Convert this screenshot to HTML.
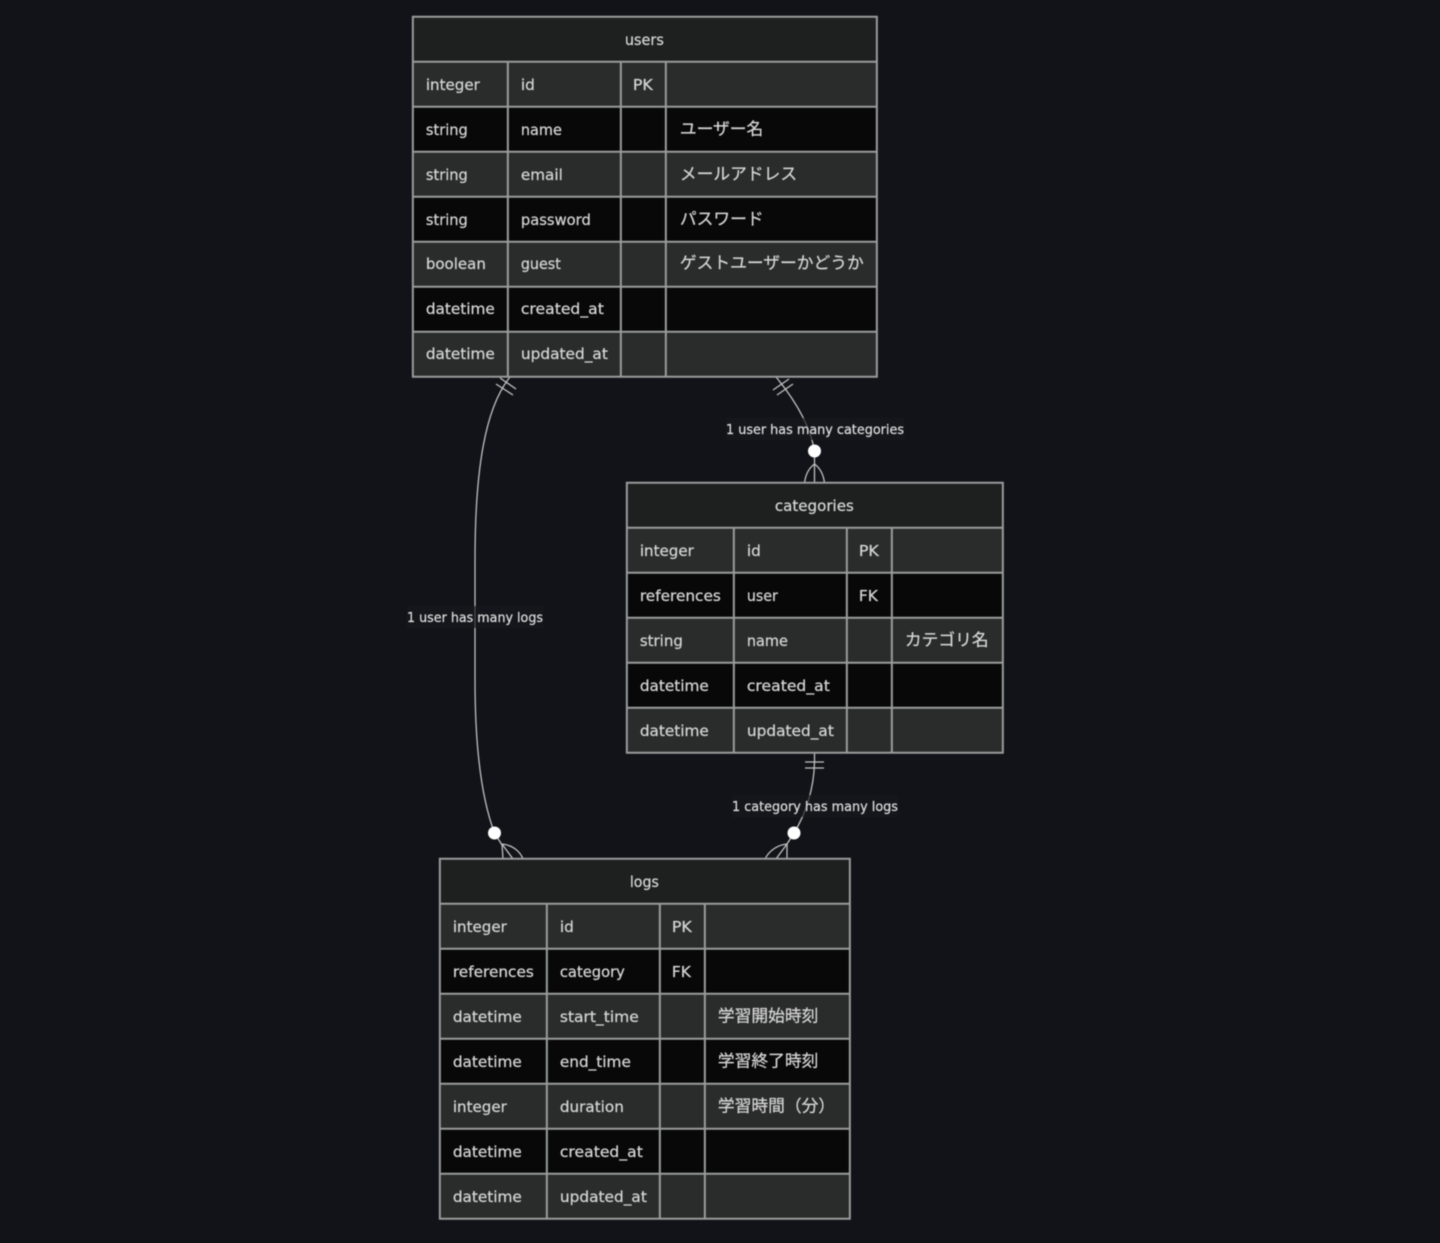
<!DOCTYPE html>
<html lang="ja"><head><meta charset="utf-8"><title>ER diagram</title>
<style>
html,body{margin:0;padding:0;background:#111318;width:1440px;height:1243px;overflow:hidden}
svg{display:block;filter:blur(.45px)}
text{font-family:"DejaVu Sans","Noto Sans CJK JP",sans-serif;font-size:15.5px;fill:#d4d4d4;stroke:#d4d4d4;stroke-width:.25px}
.j{font-family:"Noto Sans CJK JP",sans-serif;font-size:16.75px;transform:translateY(.7px)}
.l{font-size:13.5px;fill:#dcdcdc;stroke:#dcdcdc}
.h{fill:#1e1f1f}.a{fill:#2a2b2b}.b{fill:#080808}
.g{stroke:#9a9c9c;stroke-width:2;fill:none}
.e{stroke:#c0c0c0;stroke-width:1.3;fill:none}
</style></head><body>
<svg width="1440" height="1243" viewBox="0 0 1440 1243" xmlns="http://www.w3.org/2000/svg">
<rect width="1440" height="1243" fill="#111318"/>

<!-- edges -->
<path class="e" d="M510,377 C485,408 475,470 475,560 L475,680 C475,760 484,805 494.5,833 L502,845"/>
<path class="e" d="M500,378 L516,389 M496,384 L513,395"/>
<path class="e" d="M502,844 L503,859 M502,844 L513,859 M502,844 C512,845 520,851 523,859"/>
<circle cx="494.5" cy="833" r="6.5" fill="#fff"/>

<path class="e" d="M776,377 C795,400 810,425 814.5,451 L814.5,483"/>
<path class="e" d="M773,390 L789,379 M777,395 L793,384"/>
<path class="e" d="M814.5,464 C809,468 805.5,475 804.5,483 M814.5,464 C820,468 823.5,475 824.5,483"/>
<circle cx="814.5" cy="451" r="6.5" fill="#fff"/>

<path class="e" d="M814.5,753 L814.5,762 C814,790 805,815 794,833 L787,844 L787,859"/>
<path class="e" d="M805,762 L824,762 M805,768 L824,768"/>
<path class="e" d="M787,844 L776,859 M787,844 C777,845 769,851 765,859"/>
<circle cx="794" cy="833" r="6.5" fill="#fff"/>

<!-- users -->
<g transform="translate(-.15,-.2)">
<rect class="h" x="413" y="17" width="464" height="45"/>
<rect class="a" x="413" y="62" width="464" height="45"/>
<rect class="b" x="413" y="107" width="464" height="45"/>
<rect class="a" x="413" y="152" width="464" height="45"/>
<rect class="b" x="413" y="197" width="464" height="45"/>
<rect class="a" x="413" y="242" width="464" height="45"/>
<rect class="b" x="413" y="287" width="464" height="45"/>
<rect class="a" x="413" y="332" width="464" height="45"/>
<path class="g" d="M413,17H877V377H413Z M413,62H877 M413,107H877 M413,152H877 M413,197H877 M413,242H877 M413,287H877 M413,332H877 M508,62V377 M621,62V377 M666,62V377"/>
<text x="625" y="45" textLength="39" lengthAdjust="spacingAndGlyphs">users</text>
<text x="426" y="90" textLength="54" lengthAdjust="spacingAndGlyphs">integer</text>
<text x="521" y="90" textLength="14" lengthAdjust="spacingAndGlyphs">id</text>
<text x="633" y="90" textLength="20" lengthAdjust="spacingAndGlyphs">PK</text>
<text x="426" y="135" textLength="42" lengthAdjust="spacingAndGlyphs">string</text>
<text x="521" y="135" textLength="41" lengthAdjust="spacingAndGlyphs">name</text>
<text class="j" x="680" y="134">ユーザー名</text>
<text x="426" y="180" textLength="42" lengthAdjust="spacingAndGlyphs">string</text>
<text x="521" y="180" textLength="42" lengthAdjust="spacingAndGlyphs">email</text>
<text class="j" x="680" y="179">メールアドレス</text>
<text x="426" y="225" textLength="42" lengthAdjust="spacingAndGlyphs">string</text>
<text x="521" y="225" textLength="70" lengthAdjust="spacingAndGlyphs">password</text>
<text class="j" x="680" y="224">パスワード</text>
<text x="426" y="269" textLength="60" lengthAdjust="spacingAndGlyphs">boolean</text>
<text x="521" y="269" textLength="40" lengthAdjust="spacingAndGlyphs">guest</text>
<text class="j" x="680" y="268">ゲストユーザーかどうか</text>
<text x="426" y="314" textLength="69" lengthAdjust="spacingAndGlyphs">datetime</text>
<text x="521" y="314" textLength="83" lengthAdjust="spacingAndGlyphs">created_at</text>
<text x="426" y="359" textLength="69" lengthAdjust="spacingAndGlyphs">datetime</text>
<text x="521" y="359" textLength="87" lengthAdjust="spacingAndGlyphs">updated_at</text>
</g>

<!-- categories -->
<g transform="translate(-.15,-.2)">
<rect class="h" x="627" y="483" width="376" height="45"/>
<rect class="a" x="627" y="528" width="376" height="45"/>
<rect class="b" x="627" y="573" width="376" height="45"/>
<rect class="a" x="627" y="618" width="376" height="45"/>
<rect class="b" x="627" y="663" width="376" height="45"/>
<rect class="a" x="627" y="708" width="376" height="45"/>
<path class="g" d="M627,483H1003V753H627Z M627,528H1003 M627,573H1003 M627,618H1003 M627,663H1003 M627,708H1003 M734,528V753 M847,528V753 M892,528V753"/>
<text x="775" y="511" textLength="79" lengthAdjust="spacingAndGlyphs">categories</text>
<text x="640" y="556" textLength="54" lengthAdjust="spacingAndGlyphs">integer</text>
<text x="747" y="556" textLength="14" lengthAdjust="spacingAndGlyphs">id</text>
<text x="859" y="556" textLength="20" lengthAdjust="spacingAndGlyphs">PK</text>
<text x="640" y="601" textLength="81" lengthAdjust="spacingAndGlyphs">references</text>
<text x="747" y="601" textLength="31" lengthAdjust="spacingAndGlyphs">user</text>
<text x="859" y="601" textLength="19" lengthAdjust="spacingAndGlyphs">FK</text>
<text x="640" y="646" textLength="43" lengthAdjust="spacingAndGlyphs">string</text>
<text x="747" y="646" textLength="41" lengthAdjust="spacingAndGlyphs">name</text>
<text class="j" x="905" y="645">カテゴリ名</text>
<text x="640" y="691" textLength="69" lengthAdjust="spacingAndGlyphs">datetime</text>
<text x="747" y="691" textLength="83" lengthAdjust="spacingAndGlyphs">created_at</text>
<text x="640" y="736" textLength="69" lengthAdjust="spacingAndGlyphs">datetime</text>
<text x="747" y="736" textLength="87" lengthAdjust="spacingAndGlyphs">updated_at</text>
</g>

<!-- logs -->
<g transform="translate(-.15,-.2)">
<rect class="h" x="440" y="859" width="410" height="45"/>
<rect class="a" x="440" y="904" width="410" height="45"/>
<rect class="b" x="440" y="949" width="410" height="45"/>
<rect class="a" x="440" y="994" width="410" height="45"/>
<rect class="b" x="440" y="1039" width="410" height="45"/>
<rect class="a" x="440" y="1084" width="410" height="45"/>
<rect class="b" x="440" y="1129" width="410" height="45"/>
<rect class="a" x="440" y="1174" width="410" height="45"/>
<path class="g" d="M440,859H850V1219H440Z M440,904H850 M440,949H850 M440,994H850 M440,1039H850 M440,1084H850 M440,1129H850 M440,1174H850 M547,904V1219 M660,904V1219 M705,904V1219"/>
<text x="630" y="887" textLength="29" lengthAdjust="spacingAndGlyphs">logs</text>
<text x="453" y="932" textLength="54" lengthAdjust="spacingAndGlyphs">integer</text>
<text x="560" y="932" textLength="14" lengthAdjust="spacingAndGlyphs">id</text>
<text x="672" y="932" textLength="20" lengthAdjust="spacingAndGlyphs">PK</text>
<text x="453" y="977" textLength="81" lengthAdjust="spacingAndGlyphs">references</text>
<text x="560" y="977" textLength="65" lengthAdjust="spacingAndGlyphs">category</text>
<text x="672" y="977" textLength="19" lengthAdjust="spacingAndGlyphs">FK</text>
<text x="453" y="1022" textLength="69" lengthAdjust="spacingAndGlyphs">datetime</text>
<text x="560" y="1022" textLength="79" lengthAdjust="spacingAndGlyphs">start_time</text>
<text class="j" x="718" y="1021">学習開始時刻</text>
<text x="453" y="1067" textLength="69" lengthAdjust="spacingAndGlyphs">datetime</text>
<text x="560" y="1067" textLength="71" lengthAdjust="spacingAndGlyphs">end_time</text>
<text class="j" x="718" y="1066">学習終了時刻</text>
<text x="453" y="1112" textLength="54" lengthAdjust="spacingAndGlyphs">integer</text>
<text x="560" y="1112" textLength="64" lengthAdjust="spacingAndGlyphs">duration</text>
<text class="j" x="718" y="1111">学習時間（分）</text>
<text x="453" y="1157" textLength="69" lengthAdjust="spacingAndGlyphs">datetime</text>
<text x="560" y="1157" textLength="83" lengthAdjust="spacingAndGlyphs">created_at</text>
<text x="453" y="1202" textLength="69" lengthAdjust="spacingAndGlyphs">datetime</text>
<text x="560" y="1202" textLength="87" lengthAdjust="spacingAndGlyphs">updated_at</text>
</g>

<!-- edge labels -->
<rect x="726" y="418" width="178" height="22" fill="#16181c" fill-opacity=".7"/>
<text class="l" x="726" y="434" textLength="178" lengthAdjust="spacingAndGlyphs">1 user has many categories</text>
<rect x="407" y="606" width="136" height="22" fill="#16181c" fill-opacity=".7"/>
<text class="l" x="407" y="622" textLength="136" lengthAdjust="spacingAndGlyphs">1 user has many logs</text>
<rect x="732" y="795" width="166" height="22" fill="#16181c" fill-opacity=".7"/>
<text class="l" x="732" y="811" textLength="166" lengthAdjust="spacingAndGlyphs">1 category has many logs</text>
</svg>
</body></html>
